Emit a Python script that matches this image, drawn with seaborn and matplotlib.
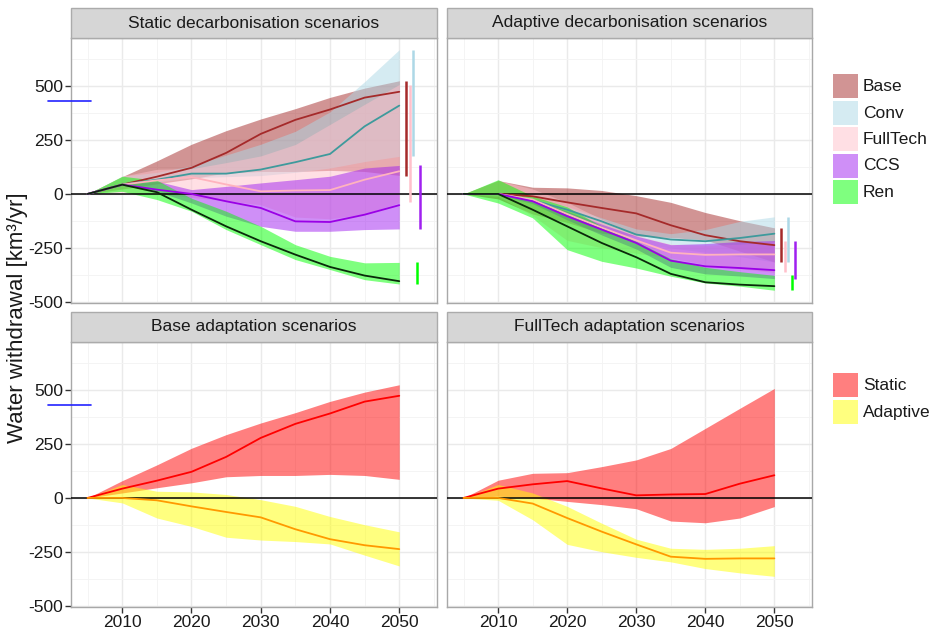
import matplotlib
matplotlib.use("Agg")
import matplotlib.pyplot as plt
from matplotlib.patches import Rectangle
import numpy as np
import pandas as pd
import seaborn as sns

# ---------------------------------------------------------------- data
years = [2005, 2010, 2015, 2020, 2025, 2030, 2035, 2040, 2045, 2050]
decarb = ["Base", "Conv", "FullTech", "CCS", "Ren"]
adapt = ["Static", "Adaptive"]

# static decarbonisation scenarios: median and range
static_base_mid = [0, 43, 80, 121, 190, 278, 343, 391, 446, 473]
static_base_hi = [0, 80, 153, 230, 293, 347, 395, 447, 490, 524]
static_base_lo = [0, 23, 47, 70, 98, 104, 104, 109, 104, 86]
static_conv_mid = [0, 43, 66, 94, 94, 113, 147, 185, 313, 409]
static_conv_hi = [0, 82, 100, 130, 180, 230, 290, 380, 520, 668]
static_conv_lo = [0, 40, 55, 75, 80, 85, 100, 120, 150, 174]
static_full_mid = [0, 43, 63, 78, 44, 12, 16, 18, 66, 105]
static_full_hi = [0, 82, 114, 117, 145, 176, 229, 322, 415, 507]
static_full_lo = [0, 8, 0, -16, -31, -50, -107, -115, -93, -40]
static_ccs_mid = [0, 43, 20, 0, -34, -65, -127, -130, -96, -52]
static_ccs_hi = [0, 45, 59, 20, 35, 51, 66, 82, 120, 132]
static_ccs_lo = [0, 40, 12, -42, -103, -150, -173, -173, -165, -162]
static_ren_mid = [0, 43, 8, -73, -150, -219, -281, -338, -378, -404]
static_ren_hi = [0, 82, 63, -20, -80, -150, -235, -289, -319, -317]
static_ren_lo = [0, 12, -26, -80, -165, -235, -304, -350, -397, -417]

# adaptive decarbonisation scenarios: median and range
adapt_base_mid = [0, 0, -11, -39, -65, -90, -145, -191, -219, -237]
adapt_base_hi = [0, 62, 31, 28, 16, -8, -39, -86, -124, -157]
adapt_base_lo = [0, -23, -93, -132, -182, -195, -202, -213, -265, -315]
adapt_conv_mid = [0, 0, -29, -73, -127, -188, -211, -219, -204, -184]
adapt_conv_hi = [0, 5, -19, -57, -111, -162, -184, -165, -127, -106]
adapt_conv_lo = [0, -5, -40, -100, -170, -225, -250, -270, -290, -315]
adapt_full_mid = [0, 0, -26, -93, -156, -215, -272, -282, -280, -280]
adapt_full_hi = [0, 62, 23, -39, -117, -191, -233, -238, -233, -221]
adapt_full_lo = [0, -11, -101, -215, -249, -275, -296, -327, -347, -363]
adapt_ccs_mid = [0, 0, -34, -103, -165, -227, -309, -335, -343, -353]
adapt_ccs_hi = [0, 2, -25, -80, -140, -195, -235, -230, -220, -216]
adapt_ccs_lo = [0, -3, -45, -120, -190, -255, -340, -370, -380, -392]
adapt_ren_mid = [0, 0, -73, -150, -227, -293, -370, -409, -420, -427]
adapt_ren_hi = [0, 66, -10, -60, -150, -220, -300, -340, -360, -377]
adapt_ren_lo = [0, -42, -111, -258, -312, -343, -381, -412, -427, -446]

# 2050 spread of the other model runs (Base, Conv, FullTech, CCS, Ren)
static_bar_lo = [85, 174, -39, -162, -417]
static_bar_hi = [521, 668, 506, 132, -317]
adapt_bar_lo = [-315, -315, -361, -392, -446]
adapt_bar_hi = [-157, -106, -216, -216, -377]

# 2005 reference withdrawal level
reference_level = 430

# ---------------------------------------------------------------- tables
def long_table(names, mids, los, his):
    rows = []
    for n, m, lo, hi in zip(names, mids, los, his):
        for y, a, b, c in zip(years, m, lo, hi):
            rows.append({"year": y, "scenario": n, "mid": a, "lo": b, "hi": c})
    return pd.DataFrame(rows)

static_df = long_table(
    decarb,
    [static_base_mid, static_conv_mid, static_full_mid, static_ccs_mid, static_ren_mid],
    [static_base_lo, static_conv_lo, static_full_lo, static_ccs_lo, static_ren_lo],
    [static_base_hi, static_conv_hi, static_full_hi, static_ccs_hi, static_ren_hi],
)
adapt_df = long_table(
    decarb,
    [adapt_base_mid, adapt_conv_mid, adapt_full_mid, adapt_ccs_mid, adapt_ren_mid],
    [adapt_base_lo, adapt_conv_lo, adapt_full_lo, adapt_ccs_lo, adapt_ren_lo],
    [adapt_base_hi, adapt_conv_hi, adapt_full_hi, adapt_ccs_hi, adapt_ren_hi],
)
base_df = long_table(
    adapt,
    [static_base_mid, adapt_base_mid],
    [static_base_lo, adapt_base_lo],
    [static_base_hi, adapt_base_hi],
)
full_df = long_table(
    adapt,
    [static_full_mid, adapt_full_mid],
    [static_full_lo, adapt_full_lo],
    [static_full_hi, adapt_full_hi],
)

# ---------------------------------------------------------------- styles
fill_colors = {
    "Base": "#A52A2A", "Conv": "#ADD8E6", "FullTech": "#FFC0CB",
    "CCS": "#A020F0", "Ren": "#00FF00", "Static": "#FF0000", "Adaptive": "#FFFF00",
}
line_colors = {
    "Base": "#A52A2A", "Conv": "#3E9A9C", "FullTech": "#FFB3BE",
    "CCS": "#9A00E6", "Ren": "#0A2A0A", "Static": "#FF0000", "Adaptive": "#FF9900",
}
bar_x = {"Base": 2051.0, "FullTech": 2051.5, "Conv": 2052.0, "Ren": 2052.5, "CCS": 2053.0}

sns.set_theme(style="white")
plt.rcParams["font.family"] = ["Liberation Sans", "DejaVu Sans"]

W, H = 937, 630
fig = plt.figure(figsize=(W / 100, H / 100), dpi=100)
fig.patch.set_facecolor("white")


def fig_box(x0, y0, x1, y1):
    return [x0 / W, 1 - y1 / H, (x1 - x0) / W, (y1 - y0) / H]


panels = {
    "tl": (71, 38, 437, 303),
    "tr": (447, 38, 812, 303),
    "bl": (71, 342, 437, 607),
    "br": (447, 342, 812, 607),
}
titles = {
    "tl": "Static decarbonisation scenarios",
    "tr": "Adaptive decarbonisation scenarios",
    "bl": "Base adaptation scenarios",
    "br": "FullTech adaptation scenarios",
}
frames = {"tl": static_df, "tr": adapt_df, "bl": base_df, "br": full_df}
orders = {"tl": decarb, "tr": decarb, "bl": adapt, "br": adapt}

TEXT = "#1A1A1A"
FS = 12.5

for key, (x0, y0, x1, y1) in panels.items():
    ax = fig.add_axes(fig_box(x0, y0, x1, y1))
    df = frames[key]
    order = orders[key]
    ax.set_facecolor("white")

    # grid
    ax.set_xticks([2010, 2020, 2030, 2040, 2050])
    ax.set_xticks([2005, 2015, 2025, 2035, 2045, 2055], minor=True)
    ax.set_yticks([-500, -250, 0, 250, 500])
    ax.set_yticks([-375, -125, 125, 375, 625], minor=True)
    ax.grid(True, which="major", color="#EAEAEA", lw=1.0)
    ax.grid(True, which="minor", color="#F3F3F3", lw=0.6)
    ax.set_axisbelow(True)

    # ranges
    for name in order:
        sub = df[df["scenario"] == name]
        ax.fill_between(sub["year"], sub["lo"], sub["hi"], color=fill_colors[name],
                        alpha=0.5, lw=0, zorder=2)

    ax.axhline(0, color="black", lw=1.1, zorder=3)

    # medians
    sns.lineplot(data=df, x="year", y="mid", hue="scenario", hue_order=order,
                 palette=line_colors, legend=False, ax=ax, lw=1.3, zorder=4)

    # spread of 2050 values
    if key in ("tl", "tr"):
        lo_vals = static_bar_lo if key == "tl" else adapt_bar_lo
        hi_vals = static_bar_hi if key == "tl" else adapt_bar_hi
        for name, lo, hi in zip(decarb, lo_vals, hi_vals):
            ax.vlines(bar_x[name], lo, hi, colors=fill_colors[name], lw=1.8, zorder=4)

    if key in ("tl", "bl"):
        ax.plot([1999.3, 2005.5], [reference_level, reference_level], color="#2323FF",
                lw=1.2, clip_on=False, zorder=6)

    ax.set_xlim(2002.6, 2055.45)
    ax.set_ylim(-505, 722)
    ax.set_xlabel("")
    ax.set_ylabel("")

    for s in ax.spines.values():
        s.set_color("#A8A8A8")
        s.set_linewidth(1.0)

    ax.tick_params(axis="both", which="minor", length=0)
    ax.tick_params(axis="both", which="major", length=4, width=1, color="#333333",
                   labelsize=FS, labelcolor=TEXT, pad=1.5)
    if key in ("tl", "bl"):
        ax.tick_params(axis="y", left=True)
        ax.set_yticklabels(["-500", "-250", "0", "250", "500"])
    else:
        ax.tick_params(axis="y", left=False, labelleft=False)
    if key in ("bl", "br"):
        ax.tick_params(axis="x", bottom=True)
        ax.set_xticklabels(["2010", "2020", "2030", "2040", "2050"])
    else:
        ax.tick_params(axis="x", bottom=False, labelbottom=False)

    # facet strip
    strip = Rectangle((x0 / W, 1 - y0 / H), (x1 - x0) / W, 30 / H,
                      transform=fig.transFigure, facecolor="#D6D6D6",
                      edgecolor="#ABABAB", lw=1.0)
    fig.add_artist(strip)
    fig.text((x0 + x1) / 2 / W, 1 - (y0 - 15) / H, titles[key], ha="center",
             va="center", fontsize=FS, color=TEXT)

# y axis title
fig.text(18 / W, 1 - 318 / H, "Water withdrawal [km³/yr]", rotation=90,
         ha="center", va="center", fontsize=16, color=TEXT)


# legends
def legend(names, top):
    for i, name in enumerate(names):
        yk = top + i * 26.5
        fig.add_artist(Rectangle((833 / W, 1 - (yk + 24) / H), 25 / W, 24 / H,
                                 transform=fig.transFigure,
                                 facecolor=fill_colors[name], alpha=0.5, lw=0))
        fig.text(863 / W, 1 - (yk + 12.5) / H, name, ha="left", va="center",
                 fontsize=FS, color=TEXT)


legend(decarb, 74)
legend(adapt, 373)

fig.savefig("out.png", dpi=100)
